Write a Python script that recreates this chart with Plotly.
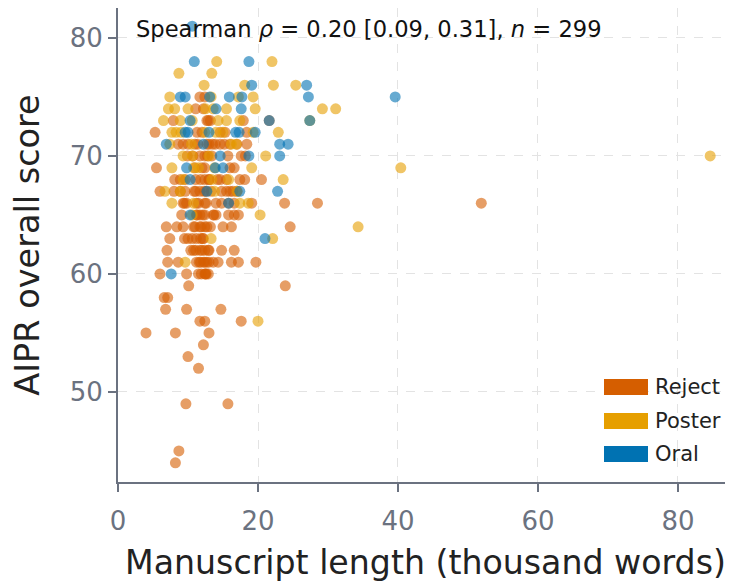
import plotly.graph_objects as go

# ---------------- data (thousand words, AIPR score) ----------------
oral_words = [10.6, 10.9, 18.7, 19.1, 26.95, 8.9, 9.6, 13.1, 15.9, 17.7, 27.2, 39.6,
              14.0, 17.6, 10.3, 21.6, 27.4, 9.6, 10.0, 13.0, 16.8, 17.3, 19.6,
              6.9, 12.2, 23.1, 24.3, 14.6, 18.7, 23.1, 9.8, 13.9, 15.0, 10.3,
              12.7, 17.4, 22.8, 15.8, 10.3, 21.0, 7.6]
oral_score = [81, 78, 78, 76, 76, 75, 75, 75, 75, 75, 75, 75,
              74, 74, 73, 73, 73, 72, 72, 72, 72, 72, 72,
              71, 71, 71, 71, 70, 70, 70, 69, 69, 69, 68,
              67, 67, 67, 66, 65, 63, 60]

poster_words = [14.1, 22.0, 8.7, 13.4, 12.3, 18.1, 22.2, 25.4, 7.4, 13.3, 17.2, 19.3,
                7.2, 8.1, 10.0, 12.5, 13.6, 15.5, 19.6, 29.2, 31.1,
                6.5, 8.9, 10.6, 14.3, 15.5, 17.4, 27.4,
                7.7, 8.3, 9.0, 12.4, 14.0, 15.0, 19.3, 22.9,
                7.4, 10.5, 16.2, 16.9, 9.3, 10.6, 13.0, 21.1, 84.6,
                7.7, 10.8, 11.5, 13.8, 19.1, 40.4, 9.3, 13.4, 15.8, 23.6,
                6.7, 8.9, 13.8, 17.0, 7.7, 10.8, 17.4, 18.6, 10.6, 20.3,
                34.3, 13.3, 22.1, 9.6, 20.0]
poster_score = [78, 78, 77, 77, 76, 76, 76, 76, 75, 75, 75, 75,
                74, 74, 74, 74, 74, 74, 74, 74, 74,
                73, 73, 73, 73, 73, 73, 73,
                72, 72, 72, 72, 72, 72, 72, 72,
                71, 71, 71, 71, 70, 70, 70, 70, 70,
                69, 69, 69, 69, 69, 69, 68, 68, 68, 68,
                67, 67, 67, 67, 66, 66, 66, 66, 65, 65,
                64, 63, 63, 61, 56]

reject_words = [11.7, 12.4, 11.1, 7.9, 12.7, 13.2, 17.9, 21.6,
                5.3, 11.3, 14.6, 15.3, 18.4,
                8.6, 9.3, 10.0, 11.0, 13.0, 13.9, 14.6, 15.2, 16.0, 17.0, 18.4,
                9.9, 11.7, 12.4, 13.4, 15.7, 17.6, 18.2,
                5.5, 11.0, 12.0, 16.6, 16.0,
                8.1, 8.9, 9.6, 11.1, 12.4, 13.0, 14.6, 15.5, 17.4, 18.1, 20.5,
                6.0, 8.0, 8.9, 9.6, 11.1, 11.7, 12.6, 14.8, 15.5, 16.0, 16.4, 17.0,
                9.3, 9.8, 11.2, 12.4, 14.8, 15.8, 16.6, 19.1, 23.8, 28.5, 51.9,
                9.1, 11.2, 11.7, 12.4, 13.6, 14.0, 15.8, 16.6, 17.2,
                6.9, 8.4, 9.3, 11.0, 11.7, 12.4, 12.7, 16.2, 24.6,
                7.4, 9.5, 10.0, 11.2, 11.8, 12.2,
                7.0, 10.4, 10.8, 11.7, 12.4, 13.0, 14.8, 16.6,
                7.1, 8.6, 11.2, 11.8, 12.4, 12.7, 13.6, 14.3, 16.2, 17.2, 19.7,
                6.0, 9.8, 11.5, 11.9, 12.4, 12.9,
                10.1, 23.9, 6.6, 7.1, 6.8, 9.8, 14.7, 11.7, 12.4, 17.6,
                4.0, 8.2, 13.0, 12.2, 10.0, 11.5, 9.7, 15.7, 8.7, 8.2,
                12.0, 12.2, 12.6, 11.9, 12.1, 11.5, 12.3, 13.0, 12.8, 11.4,
                12.1, 12.9, 11.6, 13.2, 12.6, 11.8, 10.7, 13.5, 12.0, 12.9,
                12.2, 12.4, 10.9, 11.3, 12.5, 13.0, 10.6, 14.0, 13.7, 14.2,
                11.1, 10.8, 13.3, 12.7, 9.5, 15.0]
reject_score = [75, 75, 74, 73, 73, 73, 73, 73,
                72, 72, 72, 72, 72,
                71, 71, 71, 71, 71, 71, 71, 71, 71, 71, 71,
                70, 70, 70, 70, 70, 70, 70,
                69, 69, 69, 69, 69,
                68, 68, 68, 68, 68, 68, 68, 68, 68, 68, 68,
                67, 67, 67, 67, 67, 67, 67, 67, 67, 67, 67, 67,
                66, 66, 66, 66, 66, 66, 66, 66, 66, 66, 66,
                65, 65, 65, 65, 65, 65, 65, 65, 65,
                64, 64, 64, 64, 64, 64, 64, 64, 64,
                63, 63, 63, 63, 63, 63,
                62, 62, 62, 62, 62, 62, 62, 62,
                61, 61, 61, 61, 61, 61, 61, 61, 61, 61, 61,
                60, 60, 60, 60, 60, 60,
                59, 59, 58, 58, 57, 57, 57, 56, 56, 56,
                55, 55, 55, 54, 53, 52, 49, 49, 45, 44,
                62, 61, 60, 64, 65, 66, 67, 68, 70, 71,
                63, 62, 61, 64, 66, 68, 70, 71, 72, 73,
                74, 69, 67, 65, 60, 61, 63, 66, 65, 68,
                62, 64, 67, 71, 66, 64]

groups = ["Reject", "Poster", "Oral"]
colors = {"Reject": "#D55E00", "Poster": "#E69F00", "Oral": "#0072B2"}
x_ticks = [0, 20, 40, 60, 80]
y_ticks = [50, 60, 70, 80]
annotation_text = "Spearman <i>ρ</i> = 0.20 [0.09, 0.31], <i>n</i> = 299"

series = {
    "Reject": (reject_words, reject_score),
    "Poster": (poster_words, poster_score),
    "Oral": (oral_words, oral_score),
}

FONT = "DejaVu Sans, Verdana, sans-serif"
AX = "#6b7280"

fig = go.Figure()
for g in groups:
    xs, ys = series[g]
    fig.add_trace(go.Scatter(
        x=xs, y=ys, mode="markers", name=g, showlegend=False,
        marker=dict(color=colors[g], size=11, opacity=0.6, line=dict(width=0)),
    ))

# legend drawn as colour patches (paper coordinates)
# plot area spans screen y 8..482 -> height 474
def py(screen_y):
    return (482 - screen_y) / 474.0

def px(screen_x):
    return (screen_x - 118) / 615.0

leg_rows = [387, 421, 454]
for g, ys_ in zip(groups, leg_rows):
    fig.add_shape(type="rect", xref="paper", yref="paper",
                  x0=px(604), x1=px(648), y0=py(ys_ + 8), y1=py(ys_ - 8),
                  fillcolor=colors[g], line=dict(width=0))
    fig.add_annotation(xref="paper", yref="paper", x=px(653), y=py(ys_), text=g,
                       showarrow=False, xanchor="left", yanchor="middle",
                       font=dict(size=21, color="#222222", family=FONT))

fig.add_annotation(xref="paper", yref="paper", x=px(134), y=py(14), text=annotation_text,
                   showarrow=False, xanchor="left", yanchor="top",
                   font=dict(size=22.6, color="#111111", family=FONT))

axis_common = dict(
    showline=True, linecolor=AX, linewidth=2, mirror=False,
    ticks="outside", ticklen=8, tickwidth=1.5, tickcolor=AX,
    tickfont=dict(size=26, color=AX, family=FONT),
    showgrid=True, gridcolor="#e3e3e3", griddash="dash", gridwidth=1,
    zeroline=False, automargin=False,
)

fig.update_layout(
    width=733, height=581,
    margin=dict(l=110, r=8, t=0, b=107),
    paper_bgcolor="white", plot_bgcolor="white",
    font=dict(family=FONT),
    xaxis=dict(range=[0, 87.86], tickvals=x_ticks, ticklabelstandoff=7,
               title=dict(text="Manuscript length (thousand words)",
                          font=dict(size=33.2, color="#222222", family=FONT), standoff=16),
               **axis_common),
    yaxis=dict(range=[42.37, 82.54], tickvals=y_ticks,
               title=dict(text="AIPR overall score",
                          font=dict(size=33.5, color="#222222", family=FONT), standoff=20),
               **axis_common),
)

fig.write_html("out.html")
